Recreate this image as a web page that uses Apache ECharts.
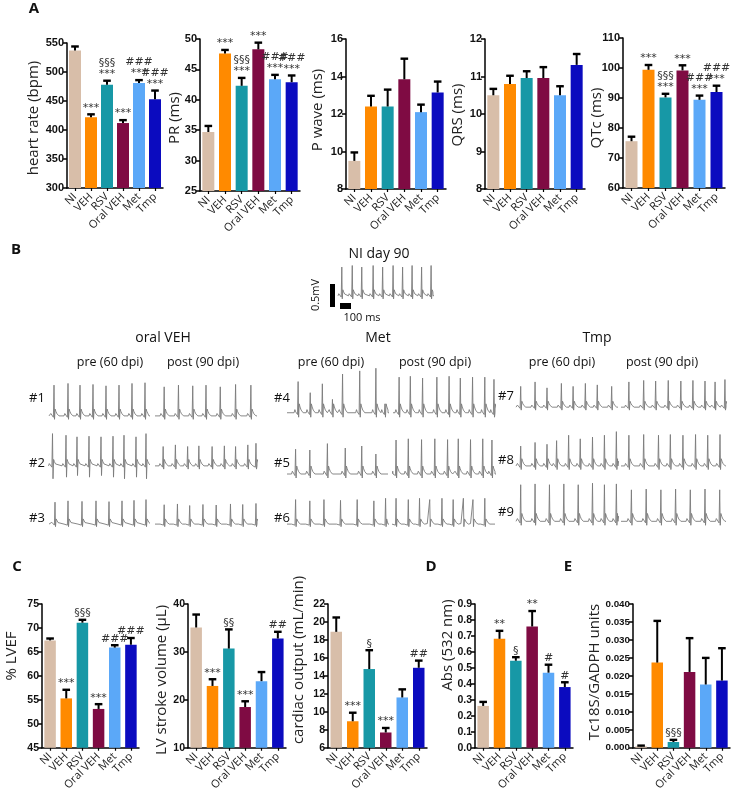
<!DOCTYPE html>
<html><head><meta charset="utf-8">
<script src="https://cdn.jsdelivr.net/npm/echarts@6/dist/echarts.min.js"></script>
<style>html,body{margin:0;padding:0;background:#fff}#c{width:733px;height:793px}</style>
</head><body><div id="c"></div>
<script>
// ---------- DATA ----------
const CATEGORIES = ['NI','VEH','RSV','Oral VEH','Met','Tmp'];
const GROUP_COLORS = ['#d8bea9','#ff8a00','#1798a6','#7f0b43','#5ba8f8','#0b0bbf'];

const HR_MEAN = [537, 422, 478, 412, 481, 453];
const HR_SEM  = [7, 5, 7, 5, 5, 15];
const HR_SIG  = ['', '***', '§§§\n***', '***', '###\n***', '###\n***'];

const PR_MEAN = [34.7, 47.6, 42.3, 48.3, 43.4, 42.9];
const PR_SEM  = [1.0, 0.6, 1.3, 1.1, 0.7, 1.1];
const PR_SIG  = ['', '***', '§§§\n***', '***', '###\n***', '###\n***'];

const PWAVE_MEAN = [9.5, 12.4, 12.4, 13.85, 12.1, 13.15];
const PWAVE_SEM  = [0.45, 0.57, 0.9, 1.1, 0.4, 0.58];
const PWAVE_SIG  = ['', '', '', '', '', ''];

const QRS_MEAN = [10.5, 10.8, 10.96, 10.96, 10.5, 11.31];
const QRS_SEM  = [0.17, 0.22, 0.18, 0.29, 0.24, 0.29];
const QRS_SIG  = ['', '', '', '', '', ''];

const QTC_MEAN = [75.6, 99.4, 90.2, 99.2, 89.4, 92.0];
const QTC_SEM  = [1.5, 1.6, 1.2, 1.7, 1.4, 2.1];
const QTC_SIG  = ['', '***', '§§§\n***', '***', '###\n***', '###\n***'];

const LVEF_MEAN = [67.4, 55.3, 71.1, 53.1, 65.9, 66.5];
const LVEF_SEM  = [0.4, 1.8, 0.6, 1.0, 0.5, 1.4];
const LVEF_SIG  = ['', '***', '§§§', '***', '###', '###'];

const SV_MEAN = [35.1, 22.9, 30.7, 18.5, 23.9, 32.8];
const SV_SEM  = [2.7, 1.4, 4.0, 1.2, 1.9, 1.4];
const SV_SIG  = ['', '***', '§§', '***', '', '##'];

const CO_MEAN = [18.9, 8.95, 14.76, 7.7, 11.6, 14.9];
const CO_SEM  = [1.6, 0.95, 2.1, 0.5, 0.9, 0.8];
const CO_SIG  = ['', '***', '§', '***', '', '##'];

const ABS_MEAN = [0.262, 0.682, 0.545, 0.759, 0.47, 0.38];
const ABS_SEM  = [0.025, 0.05, 0.022, 0.097, 0.05, 0.03];
const ABS_SIG  = ['', '**', '§', '**', '#', '#'];

const TC_MEAN = [0.0004, 0.0237, 0.0016, 0.0211, 0.0176, 0.0187];
const TC_SEM  = [0.0002, 0.0116, 0.0006, 0.0094, 0.0074, 0.0090];
const TC_SIG  = ['', '', '§§§', '', '', ''];

// ECG beats: [position in trace (0-100), relative R amplitude, optional S depth]
const ECG_NI     = [[4,.95],[15,1],[25,.95],[37,1],[47,.95],[58,1],[68,.95],[78,1],[88,.95],[98,1]];
const ECG_1_PRE  = [[5,.9],[19,.95],[31,.9],[44,.92],[57,.88],[70,.9],[83,.95],[96,.97]];
const ECG_1_POST = [[9,.85],[23,.9],[37,.88],[50,.9],[64,.85],[79,.92],[94,.9]];
const ECG_2_PRE  = [[3.5,1,-.4],[17,.95,-.35],[28,.9,-.3],[40,.92,-.35],[52,.9,-.3],[64,.92,-.35],[75,.95,-.4],[87,.9,-.35],[97,1,-.4]];
const ECG_2_POST = [[8,.6],[20,.65],[32,.6],[43,.62],[56,.6],[68,.62],[79,.6],[91,.65],[99,.7]];
const ECG_3_PRE  = [[6,.85],[19,.9],[33,.88],[47,.9],[60,.87],[73,.9],[85,.92],[97,.95]];
const ECG_3_POST = [[9,.75],[22,.78],[34,.72],[47,.76],[60,.74],[74,.78],[86,.76],[99,.8]];
const ECG_4_PRE  = [[11,.7],[23,.45],[35,.65],[45,.3],[55,.87],[72,.94],[88,1],[97,.2]];
const ECG_4_POST = [[6,.8],[17,.82],[29,.78],[43,.8],[55,.82],[66,.78],[78,.8],[90,.8],[99,.75]];
const ECG_5_PRE  = [[8.5,.62],[22.6,.6],[40,.76],[57.7,.65],[74,.7],[88,.5]];
const ECG_5_POST = [[3,.85],[15,.88],[28,.86],[41,.88],[53.5,.86],[64,.88],[76,.86],[88,.88],[97,.85]];
const ECG_6_PRE  = [[8.5,.95],[22.6,.9],[36.6,.95],[53,.92],[69.5,.95],[86,.9],[97.6,1]];
const ECG_6_POST = [[3,1],[15,.95],[26,1],[36,.95],[48,1],[59,.95],[69,1],[78.4,.95],[90,1]];
const ECG_7_PRE  = [[4.6,.7],[18.7,.85],[30.4,.65],[44.5,.8],[56,.7],[68,.8],[79.7,.75],[93.8,.7]];
const ECG_7_POST = [[7.5,.85],[21.6,.9],[33,.88],[45,.9],[57,.88],[68.5,.9],[80,.88],[89.6,.85],[99,.93]];
const ECG_8_PRE  = [[4.6,.55],[18.7,.65],[30.4,.6],[39.8,.7],[51.6,.85],[63,.75],[75,.8],[86.7,.85],[98.4,.95]];
const ECG_8_POST = [[7.5,.85],[21.6,.87],[35.7,.85],[47,.87],[59,.85],[71,.87],[82.6,.85],[94.3,.87]];
const ECG_9_PRE  = [[4.6,.93],[18.7,.95],[32.8,.93],[46.9,.95],[61,.93],[75,.97],[86.7,.93],[98.4,.95]];
const ECG_9_POST = [[9.9,.8],[24,.82],[38,.8],[52,.82],[66,.8],[80,.82],[94,.8]];

// ---------- LAYOUT / STYLE ----------
const TICK_FONT = 'Liberation Sans';
const TEXT_FONT = 'Open Sans';
const BAR_PANELS = [
  {mean:HR_MEAN, sem:HR_SEM, sig:HR_SIG, min:300, max:550, step:50, dec:0, rect:[67,43,96,145], fs:11, bw:12},
  {mean:PR_MEAN, sem:PR_SEM, sig:PR_SIG, min:25, max:50, step:5, dec:0, rect:[200,39,100,152], fs:11, bw:12},
  {mean:PWAVE_MEAN, sem:PWAVE_SEM, sig:PWAVE_SIG, min:8, max:16, step:2, dec:0, rect:[346,39,100,150], fs:11, bw:12},
  {mean:QRS_MEAN, sem:QRS_SEM, sig:QRS_SIG, min:8, max:12, step:1, dec:0, rect:[485,39,100,150], fs:11, bw:12},
  {mean:QTC_MEAN, sem:QTC_SEM, sig:QTC_SIG, min:60, max:110, step:10, dec:0, rect:[623,38,102,150], fs:11, bw:12},
  {mean:LVEF_MEAN, sem:LVEF_SEM, sig:LVEF_SIG, min:45, max:75, step:5, dec:0, rect:[42,604,97,144], fs:10.5, bw:11.5},
  {mean:SV_MEAN, sem:SV_SEM, sig:SV_SIG, min:10, max:40, step:10, dec:0, rect:[188,604,98,144], fs:10.5, bw:11.5},
  {mean:CO_MEAN, sem:CO_SEM, sig:CO_SIG, min:6, max:22, step:2, dec:0, rect:[328,604,99,144], fs:10.5, bw:11.5},
  {mean:ABS_MEAN, sem:ABS_SEM, sig:ABS_SIG, min:0, max:0.9, step:0.1, dec:1, rect:[475,604,98,144], fs:10.5, bw:11.5},
  {mean:TC_MEAN, sem:TC_SEM, sig:TC_SIG, min:0, max:0.04, step:0.005, dec:3, rect:[633,604,97,144], fs:9.8, bw:11.5}
];
const AXIS_NAMES = [
  ['heart rate (bpm)',34,118],['PR (ms)',175,118],['P wave (ms)',318,110],['QRS (ms)',458,115],['QTc (ms)',597,118],
  ['% LVEF',12,656],['LV stroke volume (µL)',162,680],['cardiac output (mL/min)',299,660],['Abs (532 nm)',448,645],['Tc18S/GADPH units',595,672]
];
// [data, left, top, width, height]
const TRACES = [
  [ECG_NI,338,264,95,47],
  [ECG_1_PRE,49,380,100,53],[ECG_1_POST,155,380,102,53],
  [ECG_2_PRE,49,432,100,50],[ECG_2_POST,155,432,102,50],
  [ECG_3_PRE,49,497,100,40],[ECG_3_POST,155,497,102,40],
  [ECG_4_PRE,287,366,101,69],[ECG_4_POST,393,366,102,69],
  [ECG_5_PRE,287,432,101,62],[ECG_5_POST,393,432,102,62],
  [ECG_6_PRE,287,497,101,40],[ECG_6_POST,393,497,102,40],
  [ECG_7_PRE,516,376,102,46],[ECG_7_POST,621,376,105,46],
  [ECG_8_PRE,516,428,102,56],[ECG_8_POST,621,428,105,56],
  [ECG_9_PRE,516,480,102,61],[ECG_9_POST,621,480,105,61]
];
// beat waveform template: [offset, value]; value 'R' and 'S' replaced per beat
const BEAT_SHAPE = [[-4,0],[-3.2,0.07],[-2.4,0.02],[-0.6,-0.04],[0,'R'],[0.5,'S'],[1.1,0.2],[1.9,0.13],[3,0.06],[4.2,0.02],[5,0]];

// ---------- BUILD ----------
const grid = [], xAxis = [], yAxis = [], series = [];

function errRenderer(sig){
  return function(params, api){
    const i = api.value(0), v = api.value(1), e = api.value(2);
    const p0 = api.coord([i, v]), p1 = api.coord([i, v + e]);
    const ch = [
      {type:'line', shape:{x1:p0[0],y1:p0[1],x2:p1[0],y2:p1[1]}, style:{stroke:'#000',lineWidth:2}},
      {type:'line', shape:{x1:p1[0]-3.8,y1:p1[1],x2:p1[0]+3.8,y2:p1[1]}, style:{stroke:'#000',lineWidth:2.4}}
    ];
    const t = sig[params.dataIndex];
    if (t) ch.push({type:'text', x:p1[0], y:p1[1]-1, style:{text:t, align:'center', verticalAlign:'bottom',
      fontSize:11, fontFamily:'DejaVu Sans', fill:'#333', lineHeight:11}});
    return {type:'group', children:ch};
  };
}

BAR_PANELS.forEach((p, k) => {
  grid.push({left:p.rect[0], top:p.rect[1], width:p.rect[2], height:p.rect[3]});
  xAxis.push({type:'category', gridIndex:k, data:CATEGORIES,
    axisLine:{lineStyle:{color:'#000', width:1.5}},
    axisTick:{show:true, alignWithLabel:true, length:3, lineStyle:{color:'#000', width:1.2}},
    axisLabel:{interval:0, rotate:45, fontSize:11, fontFamily:TEXT_FONT, color:'#222', margin:7}});
  yAxis.push({type:'value', gridIndex:k, min:p.min, max:p.max, interval:p.step,
    splitLine:{show:false},
    axisLine:{show:true, lineStyle:{color:'#000', width:1.5}},
    axisTick:{show:true, length:4, lineStyle:{color:'#000', width:1.5}},
    axisLabel:{fontSize:p.fs, fontWeight:'bold', fontFamily:TICK_FONT, color:'#111', margin:3,
      formatter:v => v.toFixed(p.dec)}});
  series.push({type:'bar', xAxisIndex:k, yAxisIndex:k, barWidth:p.bw,
    data:p.mean.map((v,j)=>({value:v, itemStyle:{color:GROUP_COLORS[j]}}))});
  series.push({type:'custom', xAxisIndex:k, yAxisIndex:k, renderItem:errRenderer(p.sig), z:5,
    encode:{x:0, y:1}, data:p.mean.map((v,j)=>[j, v, p.sem[j]])});
});

function beatPoints(beats){
  const pts = [[0,0]];
  beats.forEach(b => {
    BEAT_SHAPE.forEach(s => {
      let val = s[1];
      if (val === 'R') val = b[1];
      else if (val === 'S') val = (b[2] !== undefined ? b[2] : -0.1);
      pts.push([b[0] + s[0], val]);
    });
  });
  pts.push([100,0]);
  pts.sort((a,b)=>a[0]-b[0]);
  return pts;
}

TRACES.forEach((t, i) => {
  const k = BAR_PANELS.length + i;
  grid.push({left:t[1], top:t[2], width:t[3], height:t[4]});
  xAxis.push({type:'value', gridIndex:k, min:0, max:100, show:false});
  yAxis.push({type:'value', gridIndex:k, min:-0.5, max:1.05, show:false});
  series.push({type:'line', xAxisIndex:k, yAxisIndex:k, data:beatPoints(t[0]), symbol:'none', clip:true,
    lineStyle:{color:'#7a7a7a', width:0.9}});
});

// ---------- GRAPHIC TEXT ----------
const graphic = [];
function txt(text, x, y, o){
  o = o || {};
  graphic.push({type:'text', x:x, y:y, rotation:o.rot||0, silent:true,
    style:{text:text, fontSize:o.fs||13, fontWeight:o.fw||'normal', fontFamily:o.ff||TEXT_FONT,
      fill:o.color||'#111', align:o.align||'center', verticalAlign:'middle',
      textAlign:o.align||'center', textVerticalAlign:'middle'}});
}
[['A',34,9],['B',16,250],['C',17,567],['D',431,567],['E',568,567]].forEach(l=>txt(l[0],l[1],l[2],{fs:15,fw:'bold'}));
AXIS_NAMES.forEach(a => txt(a[0], a[1], a[2], {fs:15, rot:Math.PI/2, color:'#222'}));

txt('NI day 90', 379, 254, {fs:14});
txt('0.5mV', 316, 295, {fs:11, rot:Math.PI/2});
txt('100 ms', 362, 318, {fs:11});
graphic.push({type:'rect', shape:{x:330, y:284, width:5, height:23}, style:{fill:'#000'}});
graphic.push({type:'rect', shape:{x:340, y:303, width:11, height:6}, style:{fill:'#000'}});

txt('oral VEH', 163, 338, {fs:14}); txt('Met', 378, 338, {fs:14}); txt('Tmp', 597, 338, {fs:14});
[[110,'pre (60 dpi)'],[203,'post (90 dpi)'],[331,'pre (60 dpi)'],[435,'post (90 dpi)'],[562,'pre (60 dpi)'],[662,'post (90 dpi)']]
  .forEach(s => txt(s[1], s[0], 362, {fs:12.5}));
[['#1',37,398],['#2',37,463],['#3',37,518],['#4',282,398],['#5',282,463],['#6',282,518],['#7',506,396],['#8',506,460],['#9',506,512]]
  .forEach(r => txt(r[0], r[1], r[2], {fs:13}));

const chart = echarts.init(document.getElementById('c'), null, {renderer:'canvas'});
chart.setOption({animation:false, backgroundColor:'#fff', grid, xAxis, yAxis, series, graphic});
</script>
</body></html>
